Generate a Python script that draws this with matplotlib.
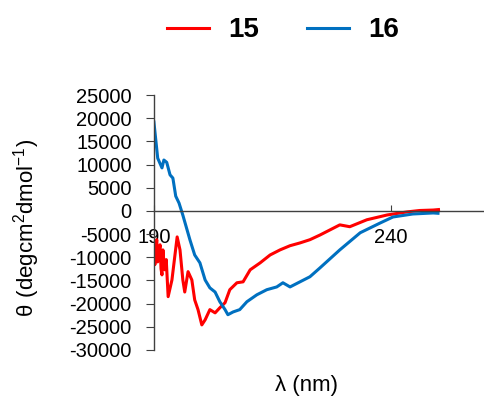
import matplotlib.pyplot as plt

plt.rcParams['font.family'] = ['Liberation Sans', 'DejaVu Sans']
plt.rcParams['axes.unicode_minus'] = False

# CD spectrum of compound 15
wl_15 = [190.0, 190.2, 190.4, 190.6, 190.8, 191.0, 191.3, 191.5, 191.7, 191.9,
         192.1, 192.3, 192.6, 193.0, 193.8,
         194.9, 195.5, 196.1, 196.5, 197.2, 198.0, 198.6, 199.3, 200.1, 200.8,
         201.8, 202.9, 203.9, 205.0, 206.0, 207.5, 208.8, 210.3, 212.4, 214.5,
         216.6, 218.7, 220.8, 222.9, 225.0, 229.2, 231.3, 234.9, 239.2, 243.4,
         246.0, 248.9, 250.0]
theta_15 = [-7300, -11600, -8000, -6200, -11000, -9000, -7300, -12500, -13800, -8400,
            -11000, -12700, -10500, -18500, -14900,
            -5600, -8400, -14900, -17500, -13100, -14900, -19200, -21300, -24600, -23500,
            -21300, -22000, -20900, -19800, -17000, -15500, -15300, -12700, -11200, -9500,
            -8400, -7500, -6900, -6200, -5200, -3000, -3400, -1900, -860, -200,
            100, 200, 300]

# CD spectrum of compound 16
wl_16 = [190.0, 190.8, 191.7, 192.1, 192.7, 193.4, 194.0, 194.6, 195.3, 196.1,
         197.6, 198.6, 199.7, 200.8, 201.8, 202.9, 203.9, 205.0, 205.6, 206.7,
         208.1, 209.6, 211.7, 213.8, 215.9, 217.2, 218.7, 220.8, 222.9, 225.0,
         229.2, 233.5, 237.7, 240.4, 244.6, 248.9, 249.9]
theta_16 = [19200, 11400, 9300, 11000, 10500, 7800, 7100, 3200, 1700, -900,
            -6250, -9500, -11200, -14900, -16600, -17500, -19600, -21300, -22400, -21800,
            -21300, -19600, -18100, -17000, -16400, -15500, -16400, -15300, -14200, -12300,
            -8400, -4700, -2600, -1300, -650, -430, -500]

x_ticks = [190, 240]
y_ticks = list(range(-30000, 25001, 5000))

fig = plt.figure(figsize=(4.84, 4.05), dpi=100)
ax = fig.add_axes([0.318, 0.136, 0.682, 0.629])

l15, = ax.plot(wl_15, theta_15, color='#FF0000', lw=2.2, label='15')
l16, = ax.plot(wl_16, theta_16, color='#0070C0', lw=2.2, label='16')

ax.set_xlim(190, 259.6)
ax.set_ylim(-30000, 25000)
ax.set_xticks(x_ticks)
ax.set_yticks(y_ticks)

for s in ['top', 'right']:
    ax.spines[s].set_visible(False)
ax.spines['bottom'].set_position(('data', 0))
for s in ['left', 'bottom']:
    ax.spines[s].set_color('#404040')
    ax.spines[s].set_linewidth(1.0)

ax.tick_params(axis='y', direction='out', length=6, color='#404040',
               labelsize=14.5, pad=10)
ax.tick_params(axis='x', direction='in', length=4, color='#404040',
               labelsize=14.5, pad=12)

ax.set_ylabel(r'$\mathregular{\theta\ (degcm^{2}dmol^{-1})}$', fontsize=16)
ax.yaxis.set_label_coords(-0.34, 0.48)
fig.text(0.634, 0.049, 'λ (nm)', ha='center', va='center', fontsize=16)

fig.legend(handles=[l15, l16], loc='center', bbox_to_anchor=(0.585, 0.925),
           ncol=2, frameon=False, handlelength=1.5,
           columnspacing=1.75, handletextpad=0.7,
           prop={'weight': 'bold', 'size': 20})

fig.savefig('out.png', dpi=100)
